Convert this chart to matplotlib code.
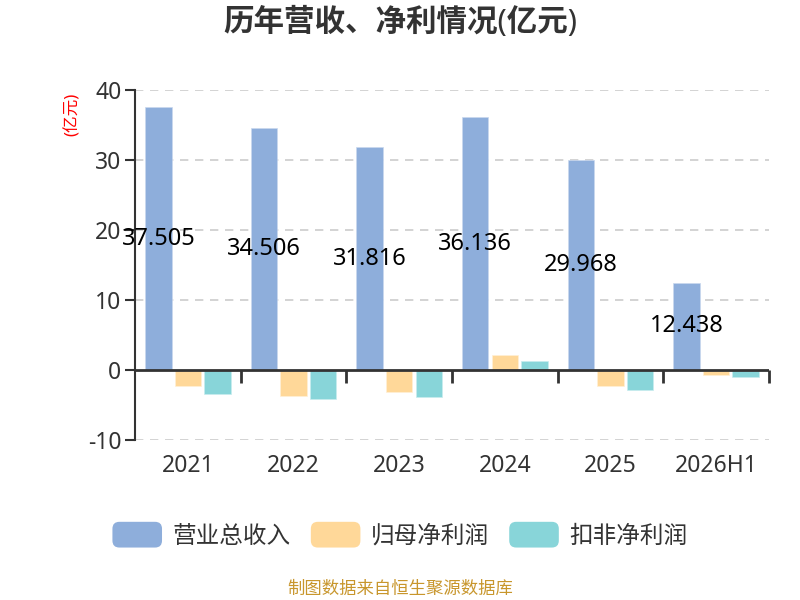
import numpy as np
import matplotlib
matplotlib.use("Agg")
import matplotlib.pyplot as plt
from matplotlib.patches import Patch, FancyBboxPatch
from matplotlib.legend_handler import HandlerPatch
from matplotlib import markers

plt.rcParams['font.family'] = ['Noto Sans', 'Noto Sans CJK SC', 'DejaVu Sans']
plt.rcParams['axes.unicode_minus'] = False

# data
years = ["2021", "2022", "2023", "2024", "2025", "2026H1"]
revenue = [37.505, 34.506, 31.816, 36.136, 29.968, 12.438]
net_profit = [-2.25, -3.7, -3.1, 2.1, -2.25, -0.75]
net_profit_ded = [-3.5, -4.1, -3.8, 1.3, -2.8, -0.95]
series_names = ["营业总收入", "归母净利润", "扣非净利润"]
colors = ["#8eaedb", "#ffd899", "#88d5d9"]


class RoundHandler(HandlerPatch):
    # rounded legend swatches
    def create_artists(self, legend, orig_handle, xdescent, ydescent,
                       width, height, fontsize, trans):
        p = FancyBboxPatch((-xdescent, -ydescent), width, height,
                           boxstyle="round,pad=0,rounding_size=5",
                           facecolor=orig_handle.get_facecolor(),
                           edgecolor="none", transform=trans)
        return [p]


fig = plt.figure(figsize=(8, 6), dpi=100)
ax = fig.add_axes([0.169, 0.2667, 0.792, 0.5833])

x = np.arange(len(years))
w = 0.25
step = 0.28
ax.bar(x - step, revenue, w, color=colors[0], edgecolor="#c9d8ee", linewidth=0.5, zorder=2)
ax.bar(x, net_profit, w, color=colors[1], edgecolor="#fff0d6", linewidth=0.5, zorder=2)
ax.bar(x + step, net_profit_ded, w, color=colors[2], edgecolor="#c8ecee", linewidth=0.5, zorder=2)

for xi, v in zip(x, revenue):
    ax.text(xi - step, v / 2, f"{v:.3f}", ha="center", va="center",
            fontsize=17, color="black", zorder=5)

ax.set_xlim(-0.5, len(years) - 0.5)
ax.set_ylim(-10, 40)
ax.set_yticks([-10, 0, 10, 20, 30, 40])
ax.set_xticks(x)
ax.set_xticklabels(years)
ax.tick_params(axis="x", length=0, pad=10, labelsize=16.5, labelcolor="#333333")
ax.tick_params(axis="y", length=7, width=1.5, color="#333333", pad=3,
               labelsize=16.5, labelcolor="#333333")

for s in ["top", "right", "bottom"]:
    ax.spines[s].set_visible(False)
ax.spines["left"].set_color("#333333")
ax.spines["left"].set_linewidth(1.5)

for g in [-10, 10, 20, 30, 40]:
    ax.axhline(g, color="#cccccc", linewidth=1.2, linestyle=(0, (5, 4)), zorder=1)

# zero line with category boundary ticks
ax.axhline(0, color="#333333", linewidth=2, zorder=3)
bounds = np.arange(len(years) + 1) - 0.5
ax.plot(bounds[1:], np.zeros(len(bounds) - 1), linestyle="none",
        marker=markers.TICKDOWN, markersize=9, markeredgewidth=2,
        color="#333333", zorder=3, clip_on=False)

ax.text(-0.098, 0.93, "(亿元)", transform=ax.transAxes, rotation=90,
        color="red", fontsize=12, ha="center", va="center")

fig.text(0.5, 0.962, "历年营收、净利情况(亿元)", ha="center", va="center",
         fontsize=22, fontweight="bold", color="#333333")

handles = [Patch(facecolor=c) for c in colors]
fig.legend(handles, series_names, loc="center", bbox_to_anchor=(0.5, 0.108),
           ncol=3, frameon=False, fontsize=17, labelcolor="#333333",
           handlelength=2.1, handleheight=1.3, handletextpad=0.45,
           columnspacing=0.85, handler_map={Patch: RoundHandler()})

fig.text(0.5, 0.018, "制图数据来自恒生聚源数据库", ha="center", va="center",
         fontsize=12.5, color="#c8962c")

fig.savefig("out.png", dpi=100)
